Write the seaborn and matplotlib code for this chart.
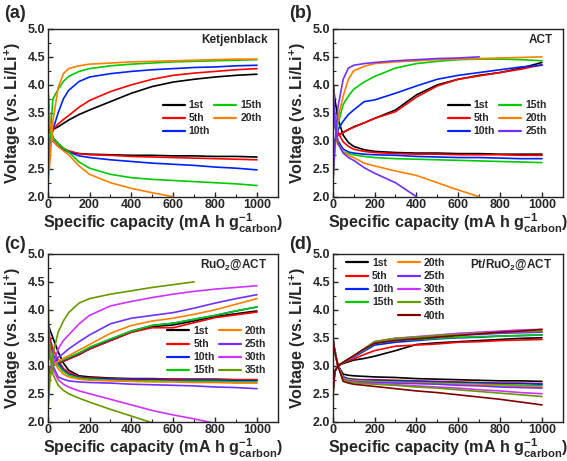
import numpy as np
import pandas as pd
import matplotlib
matplotlib.use("Agg")
import matplotlib.pyplot as plt
from matplotlib.lines import Line2D
import seaborn as sns

nan = np.nan

# capacity grid (mA h g-1 carbon) used for every curve
cap = [0, 10, 25, 50, 75, 100, 150, 200, 300, 400, 500, 600, 700, 800, 900, 1000]

colors = {"1st": "#000000", "5th": "#ff0000", "10th": "#0022ff", "15th": "#00cc00",
          "20th": "#ff8000", "25th": "#7030ff", "30th": "#cc33ff", "35th": "#669900",
          "40th": "#800000"}

# (a) Ketjenblack
a_cycles = ["1st", "5th", "10th", "15th", "20th"]
a_dis = {
    "1st": [3.7, 3.2, 3.0, 2.9, 2.84, 2.8, 2.77, 2.76, 2.75, 2.74, 2.74, 2.73, 2.73, 2.72, 2.72, 2.71],
    "5th": [3.4, 3.15, 3.05, 2.95, 2.87, 2.82, 2.77, 2.75, 2.74, 2.72, 2.71, 2.70, 2.69, 2.68, 2.67, 2.66],
    "10th": [3.9, 3.3, 3.05, 2.95, 2.86, 2.8, 2.73, 2.70, 2.66, 2.63, 2.60, 2.58, 2.56, 2.53, 2.51, 2.48],
    "15th": [4.0, 3.3, 3.05, 2.95, 2.87, 2.8, 2.62, 2.51, 2.4, 2.34, 2.31, 2.29, 2.27, 2.25, 2.23, 2.2],
    "20th": [4.1, 3.3, 3.0, 2.9, 2.82, 2.75, 2.55, 2.4, 2.25, 2.15, 2.07, 2.0, nan, nan, nan, nan],
}
a_chg = {
    "1st": [2.6, 3.0, 3.2, 3.25, 3.31, 3.37, 3.47, 3.55, 3.7, 3.85, 3.97, 4.05, 4.1, 4.14, 4.17, 4.19],
    "5th": [2.6, 3.0, 3.2, 3.3, 3.38, 3.45, 3.6, 3.72, 3.88, 4.0, 4.1, 4.17, 4.21, 4.24, 4.27, 4.29],
    "10th": [2.3, 2.9, 3.2, 3.5, 3.75, 3.9, 4.06, 4.14, 4.2, 4.24, 4.27, 4.29, 4.31, 4.32, 4.34, 4.35],
    "15th": [2.2, 3.0, 3.75, 3.92, 4.06, 4.15, 4.24, 4.29, 4.34, 4.37, 4.39, 4.41, 4.42, 4.43, 4.44, 4.45],
    "20th": [2.2, 2.6, 3.35, 3.95, 4.2, 4.29, 4.34, 4.37, 4.39, 4.41, 4.42, 4.43, 4.44, 4.45, 4.46, 4.46],
}

# (b) ACT
b_cycles = ["1st", "5th", "10th", "15th", "20th", "25th"]
b_dis = {
    "1st": [4.1, 3.75, 3.4, 3.1, 2.97, 2.9, 2.84, 2.81, 2.79, 2.78, 2.78, 2.77, 2.77, 2.76, 2.76, 2.76],
    "5th": [4.2, 3.4, 3.15, 2.98, 2.9, 2.85, 2.81, 2.79, 2.77, 2.76, 2.76, 2.75, 2.75, 2.75, 2.74, 2.74],
    "10th": [4.0, 3.3, 3.0, 2.85, 2.8, 2.78, 2.76, 2.75, 2.74, 2.72, 2.71, 2.7, 2.7, 2.69, 2.68, 2.68],
    "15th": [4.2, 3.3, 2.95, 2.8, 2.77, 2.75, 2.72, 2.7, 2.68, 2.67, 2.66, 2.65, 2.64, 2.63, 2.62, 2.61],
    "20th": [4.2, 3.3, 2.95, 2.8, 2.74, 2.7, 2.6, 2.55, 2.46, 2.38, 2.25, 2.12, 2.0, nan, nan, nan],
    "25th": [4.2, 3.3, 2.95, 2.78, 2.7, 2.65, 2.52, 2.42, 2.25, 2.0, nan, nan, nan, nan, nan, nan],
}
b_chg = {
    "1st": [2.9, 3.0, 3.1, 3.15, 3.2, 3.25, 3.32, 3.4, 3.55, 3.82, 4.0, 4.1, 4.17, 4.22, 4.3, 4.4],
    "5th": [2.9, 3.0, 3.1, 3.15, 3.2, 3.24, 3.32, 3.4, 3.52, 3.78, 3.98, 4.1, 4.16, 4.22, 4.28, 4.36],
    "10th": [2.6, 3.0, 3.2, 3.35, 3.47, 3.55, 3.7, 3.73, 3.85, 3.98, 4.1, 4.17, 4.22, 4.27, 4.32, 4.35],
    "15th": [2.2, 2.9, 3.3, 3.65, 3.8, 3.92, 4.05, 4.15, 4.3, 4.38, 4.42, 4.45, 4.46, 4.46, 4.45, 4.43],
    "20th": [2.2, 2.8, 3.4, 3.8, 4.1, 4.25, 4.33, 4.38, 4.41, 4.43, 4.45, 4.46, 4.47, 4.48, 4.49, 4.5],
    "25th": [2.2, 2.9, 3.6, 4.1, 4.3, 4.35, 4.38, 4.4, 4.43, 4.45, 4.47, 4.48, 4.5, nan, nan, nan],
}

# (c) RuO2@ACT
c_cycles = ["1st", "5th", "10th", "15th", "20th", "25th", "30th", "35th"]
c_dis = {
    "1st": [3.8, 3.65, 3.5, 3.25, 3.05, 2.92, 2.82, 2.8, 2.78, 2.77, 2.77, 2.76, 2.76, 2.76, 2.75, 2.75],
    "5th": [3.8, 3.5, 3.3, 3.1, 2.95, 2.88, 2.8, 2.78, 2.77, 2.76, 2.76, 2.76, 2.75, 2.75, 2.75, 2.75],
    "10th": [3.7, 3.4, 3.2, 3.05, 2.92, 2.85, 2.79, 2.77, 2.76, 2.75, 2.75, 2.74, 2.74, 2.74, 2.73, 2.73],
    "15th": [3.7, 3.35, 3.15, 3.0, 2.9, 2.83, 2.78, 2.76, 2.74, 2.73, 2.73, 2.72, 2.72, 2.72, 2.71, 2.71],
    "20th": [3.9, 3.3, 3.1, 2.95, 2.85, 2.8, 2.76, 2.74, 2.73, 2.72, 2.71, 2.71, 2.7, 2.7, 2.69, 2.69],
    "25th": [3.8, 3.2, 3.0, 2.8, 2.76, 2.73, 2.71, 2.7, 2.69, 2.67, 2.66, 2.65, 2.64, 2.62, 2.61, 2.59],
    "30th": [3.7, 3.15, 2.95, 2.75, 2.67, 2.62, 2.55, 2.5, 2.4, 2.3, 2.2, 2.12, 2.05, 1.97, nan, nan],
    "35th": [4.4, 3.2, 2.85, 2.65, 2.56, 2.5, 2.42, 2.35, 2.22, 2.1, 1.98, nan, nan, nan, nan, nan],
}
c_chg = {
    "1st": [2.9, 2.97, 3.0, 3.05, 3.08, 3.12, 3.2, 3.3, 3.45, 3.6, 3.7, 3.73, 3.8, 3.88, 3.93, 3.98],
    "5th": [2.9, 2.97, 3.0, 3.05, 3.08, 3.12, 3.2, 3.3, 3.45, 3.6, 3.68, 3.68, 3.77, 3.86, 3.91, 3.96],
    "10th": [2.9, 2.97, 3.0, 3.06, 3.1, 3.14, 3.22, 3.32, 3.47, 3.62, 3.72, 3.76, 3.83, 3.9, 3.98, 4.05],
    "15th": [2.9, 2.97, 3.0, 3.07, 3.11, 3.15, 3.23, 3.33, 3.48, 3.62, 3.72, 3.76, 3.83, 3.9, 3.98, 4.05],
    "20th": [2.8, 2.95, 3.02, 3.08, 3.13, 3.18, 3.28, 3.38, 3.58, 3.72, 3.8, 3.85, 3.92, 4.0, 4.1, 4.2],
    "25th": [2.7, 2.95, 3.05, 3.15, 3.22, 3.3, 3.43, 3.55, 3.75, 3.85, 3.9, 3.95, 4.03, 4.12, 4.2, 4.27],
    "30th": [2.5, 2.8, 3.0, 3.3, 3.45, 3.55, 3.75, 3.9, 4.07, 4.15, 4.22, 4.28, 4.33, 4.37, 4.4, 4.43],
    "35th": [2.1, 2.7, 3.2, 3.6, 3.8, 3.95, 4.12, 4.2, 4.28, 4.34, 4.4, 4.45, 4.5, nan, nan, nan],
}

# (d) Pt/RuO2@ACT
d_cycles = ["1st", "5th", "10th", "15th", "20th", "25th", "30th", "35th", "40th"]
d_dis = {
    "1st": [3.5, 3.25, 3.0, 2.85, 2.83, 2.82, 2.81, 2.8, 2.79, 2.77, 2.76, 2.75, 2.74, 2.73, 2.73, 2.72],
    "5th": [3.5, 3.25, 3.0, 2.8, 2.77, 2.76, 2.75, 2.75, 2.74, 2.73, 2.72, 2.71, 2.7, 2.69, 2.69, 2.68],
    "10th": [3.5, 3.25, 3.0, 2.8, 2.76, 2.75, 2.74, 2.74, 2.73, 2.72, 2.71, 2.7, 2.69, 2.68, 2.68, 2.67],
    "15th": [3.5, 3.25, 3.0, 2.78, 2.75, 2.74, 2.73, 2.72, 2.71, 2.7, 2.69, 2.68, 2.67, 2.66, 2.65, 2.64],
    "20th": [3.5, 3.25, 3.0, 2.77, 2.74, 2.73, 2.72, 2.71, 2.7, 2.69, 2.68, 2.67, 2.66, 2.64, 2.63, 2.62],
    "25th": [3.5, 3.25, 3.0, 2.76, 2.73, 2.72, 2.71, 2.7, 2.69, 2.68, 2.67, 2.65, 2.64, 2.62, 2.61, 2.6],
    "30th": [3.55, 3.25, 3.0, 2.76, 2.72, 2.71, 2.69, 2.68, 2.66, 2.64, 2.62, 2.6, 2.57, 2.55, 2.52, 2.5],
    "35th": [3.5, 3.25, 3.0, 2.75, 2.71, 2.7, 2.68, 2.67, 2.65, 2.62, 2.6, 2.57, 2.54, 2.51, 2.48, 2.45],
    "40th": [3.5, 3.25, 3.0, 2.72, 2.69, 2.67, 2.65, 2.63, 2.59, 2.55, 2.52, 2.48, 2.44, 2.4, 2.35, 2.3],
}
d_chg = {
    "1st": [2.7, 2.9, 3.0, 3.04, 3.07, 3.1, 3.13, 3.17, 3.27, 3.38, 3.41, 3.43, 3.45, 3.47, 3.49, 3.5],
    "5th": [2.6, 2.9, 3.0, 3.05, 3.09, 3.12, 3.2, 3.27, 3.35, 3.37, 3.39, 3.42, 3.43, 3.45, 3.46, 3.47],
    "10th": [2.6, 2.9, 3.0, 3.06, 3.11, 3.15, 3.26, 3.37, 3.42, 3.45, 3.48, 3.5, 3.51, 3.53, 3.54, 3.55],
    "15th": [2.5, 2.9, 3.0, 3.06, 3.11, 3.16, 3.28, 3.4, 3.45, 3.47, 3.49, 3.51, 3.52, 3.53, 3.54, 3.55],
    "20th": [2.5, 2.9, 3.0, 3.06, 3.12, 3.17, 3.3, 3.43, 3.49, 3.51, 3.54, 3.56, 3.58, 3.6, 3.61, 3.62],
    "25th": [2.5, 2.9, 3.0, 3.06, 3.11, 3.16, 3.29, 3.42, 3.48, 3.5, 3.53, 3.55, 3.56, 3.58, 3.59, 3.6],
    "30th": [2.5, 2.9, 3.0, 3.06, 3.12, 3.17, 3.3, 3.43, 3.49, 3.52, 3.55, 3.58, 3.6, 3.62, 3.64, 3.65],
    "35th": [2.4, 2.9, 3.0, 3.06, 3.12, 3.17, 3.3, 3.43, 3.49, 3.51, 3.54, 3.56, 3.58, 3.6, 3.61, 3.62],
    "40th": [2.4, 2.9, 3.0, 3.06, 3.12, 3.18, 3.3, 3.4, 3.45, 3.48, 3.51, 3.54, 3.57, 3.6, 3.62, 3.65],
}

sns.set_theme(style="ticks")
plt.rcParams.update({
    "font.family": ["Liberation Sans", "DejaVu Sans"],
    "font.weight": "bold",
    "axes.labelweight": "bold",
    "mathtext.fontset": "custom",
    "mathtext.rm": "Liberation Sans:bold",
    "mathtext.bf": "Liberation Sans:bold",
    "mathtext.default": "bf",
    "xtick.direction": "in",
    "ytick.direction": "in",
    "axes.linewidth": 1.0,
    "axes.edgecolor": "#222222",
})


def to_long(dis, chg, cycles):
    rows = []
    for cyc in cycles:
        for branch, curves in (("dis", dis), ("chg", chg)):
            for x, v in zip(cap, curves[cyc]):
                if not np.isnan(v):
                    rows.append({"cap": x, "V": v, "cycle": cyc, "branch": branch})
    return pd.DataFrame(rows)


def draw_panel(ax, dis, chg, cycles, name, leg_anchor, blank_at=None):
    df = to_long(dis, chg, cycles)
    sns.lineplot(data=df, x="cap", y="V", hue="cycle", units="branch",
                 estimator=None, sort=False, hue_order=cycles,
                 palette=[colors[c] for c in cycles], linewidth=1.2,
                 legend=False, ax=ax)
    ax.set_xlim(0, 1100)
    ax.set_ylim(2.0, 5.0)
    ax.set_xticks([0, 200, 400, 600, 800, 1000])
    ax.set_xticks(np.arange(100, 1100, 200), minor=True)
    ax.set_yticks(np.arange(2.0, 5.01, 0.5))
    ax.set_yticks(np.arange(2.25, 5.0, 0.5), minor=True)
    ax.yaxis.set_major_formatter(matplotlib.ticker.FormatStrFormatter("%.1f"))
    ax.tick_params(which="major", length=3.5, width=1.0, labelsize=9, pad=2,
                   top=False, right=False)
    ax.tick_params(which="minor", length=2, width=0.8)
    for lab in ax.get_xticklabels() + ax.get_yticklabels():
        lab.set_fontweight("bold")
    ax.set_xlabel(r"Specific capacity (mA h g$^{-1}_{carbon}$)", fontsize=11.6, labelpad=0)
    ax.set_ylabel(r"Voltage (vs. Li/Li$^{+}$)", fontsize=11.6, labelpad=3)
    ax.text(0.955, 0.935, name, transform=ax.transAxes, ha="right", va="center",
            fontsize=8.5, fontweight="bold")
    handles = [Line2D([], [], color=colors[c], lw=1.6) for c in cycles]
    labels = list(cycles)
    if blank_at is not None:
        handles.insert(blank_at, Line2D([], [], color="none"))
        labels.insert(blank_at, "")
    ax.legend(handles, labels, ncol=2, loc="upper left", bbox_to_anchor=leg_anchor,
              frameon=False, handlelength=2.1, handletextpad=0.4,
              columnspacing=0.4, labelspacing=0.3, borderpad=0, borderaxespad=0,
              prop={"weight": "bold", "size": 7.5})


fig = plt.figure(figsize=(5.67, 4.61), dpi=100)
w, h = 0.406, 0.364
ax_a = fig.add_axes([0.0841, 0.5733, w, h])
ax_b = fig.add_axes([0.5868, 0.5733, w, h])
ax_c = fig.add_axes([0.0841, 0.0853, w, h])
ax_d = fig.add_axes([0.5868, 0.0853, w, h])

draw_panel(ax_a, a_dis, a_chg, a_cycles, "Ketjenblack", (0.50, 0.575))
draw_panel(ax_b, b_dis, b_chg, b_cycles, "ACT", (0.50, 0.575))
draw_panel(ax_c, c_dis, c_chg, c_cycles, r"RuO$_2$@ACT", (0.52, 0.57))
draw_panel(ax_d, d_dis, d_chg, d_cycles, r"Pt/RuO$_2$@ACT", (0.058, 0.975), blank_at=4)

for lab, x, y in (("(a)", 0.008, 0.97), ("(b)", 0.51, 0.97),
                  ("(c)", 0.008, 0.47), ("(d)", 0.51, 0.47)):
    fig.text(x, y, lab, fontsize=13, fontweight="bold", va="center", ha="left")

fig.savefig("out.png", dpi=100)
